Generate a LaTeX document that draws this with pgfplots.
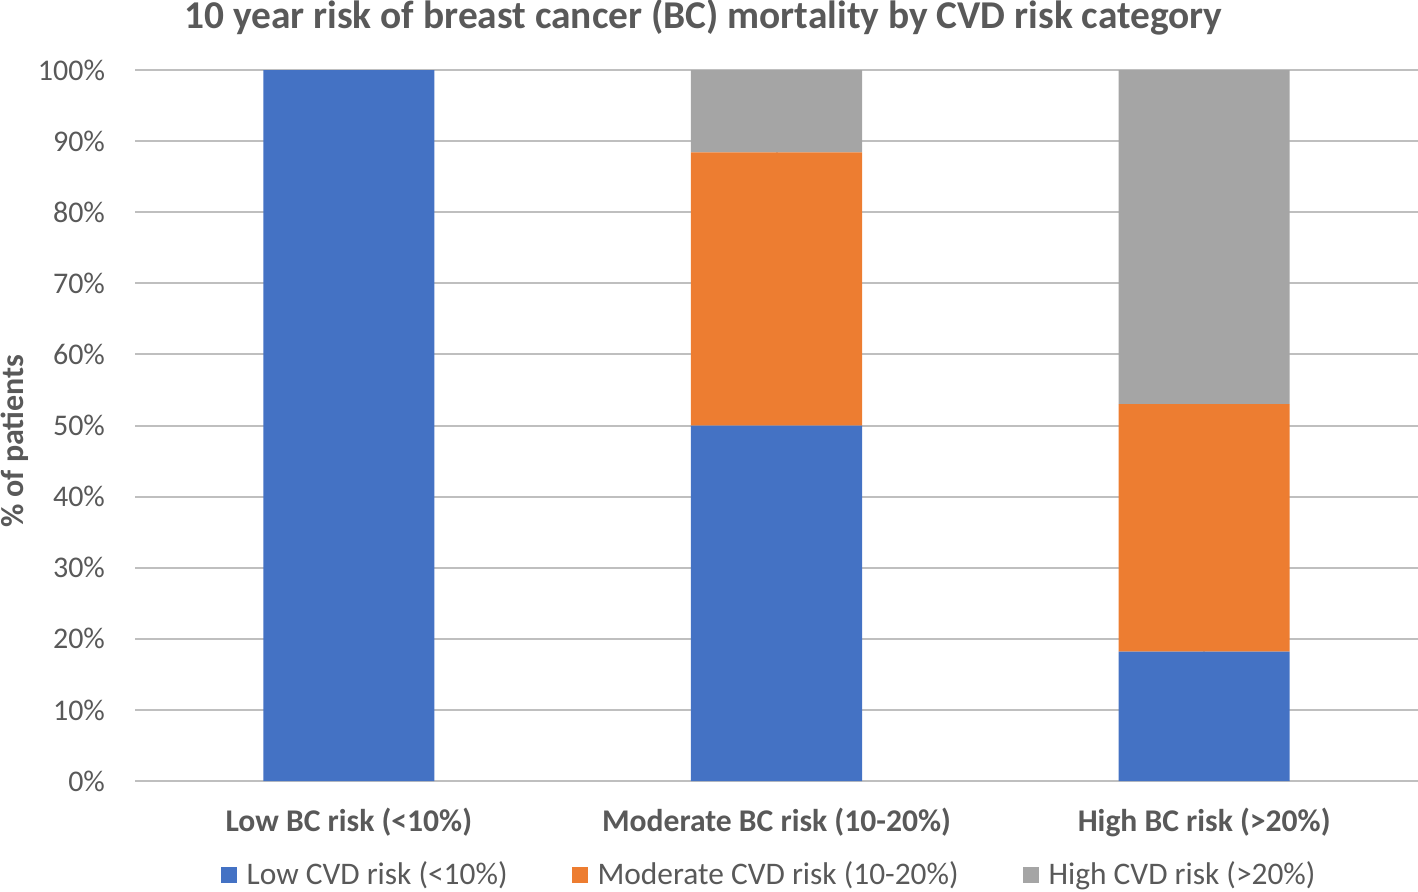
\documentclass[border=0pt]{standalone}
\usepackage{pgfplots}
\pgfplotsset{compat=1.18}
\usepackage{fontspec}
\setmainfont{Carlito}
\definecolor{cblue}{HTML}{4472C4}
\definecolor{corange}{HTML}{ED7D31}
\definecolor{cgray}{HTML}{A5A5A5}
\definecolor{txt}{HTML}{595959}
\definecolor{grid}{HTML}{D9D9D9}
\begin{document}
\begin{tikzpicture}
\useasboundingbox (0,0) rectangle (709pt,445.5pt);
\begin{axis}[
  at={(67.5pt,55pt)}, anchor=south west,
  scale only axis, width=641.5pt, height=355.5pt,
  ybar stacked, bar width=0.4,
  xmin=-0.5, xmax=2.5, ymin=0, ymax=100,
  axis line style={draw=none},
  major tick length=0pt,
  ytick={0,10,...,100},
  yticklabels={0\%,10\%,20\%,30\%,40\%,50\%,60\%,70\%,80\%,90\%,100\%},
  ymajorgrids, grid style={grid, line width=1pt},
  xtick={0,1,2},
  xticklabels={Low BC risk (<10\%),Moderate BC risk (10-20\%),High BC risk (>20\%)},
  xticklabel style={font=\fontsize{15.8}{18}\selectfont\bfseries, text=txt, yshift=-10pt},
  yticklabel style={font=\fontsize{15}{17}\selectfont, text=txt, xshift=-11.5pt},
  title={10 year risk of breast cancer (BC) mortality by CVD risk category},
  title style={font=\fontsize{19.7}{22}\selectfont\bfseries, text=txt, at={(0.443,1)}, anchor=center, yshift=20.5pt},
  ylabel={\% of patients},
  ylabel style={font=\fontsize{16}{18}\selectfont\bfseries, text=txt, at={(axis description cs:-0.0936,0.478)}, rotate=0, anchor=center, inner sep=0pt},
  legend style={at={(axis description cs:0.495,-0.132)}, anchor=center, legend columns=3, draw=none, font=\fontsize{15.7}{18}\selectfont, text=txt, /tikz/every even column/.append style={column sep=30pt}},
  legend image code/.code={\fill[#1] (0pt,-4pt) rectangle (8pt,4pt); \path (11pt,0pt);},
]
\addplot[fill=cblue, draw=none] coordinates {(0,100) (1,50) (2,18.2)};
\addplot[fill=corange, draw=none] coordinates {(0,0) (1,38.4) (2,34.8)};
\addplot[fill=cgray, draw=none] coordinates {(0,0) (1,11.6) (2,47.0)};
\legend{Low CVD risk (<10\%),Moderate CVD risk (10-20\%),High CVD risk (>20\%)}
\end{axis}
\end{tikzpicture}
\end{document}
